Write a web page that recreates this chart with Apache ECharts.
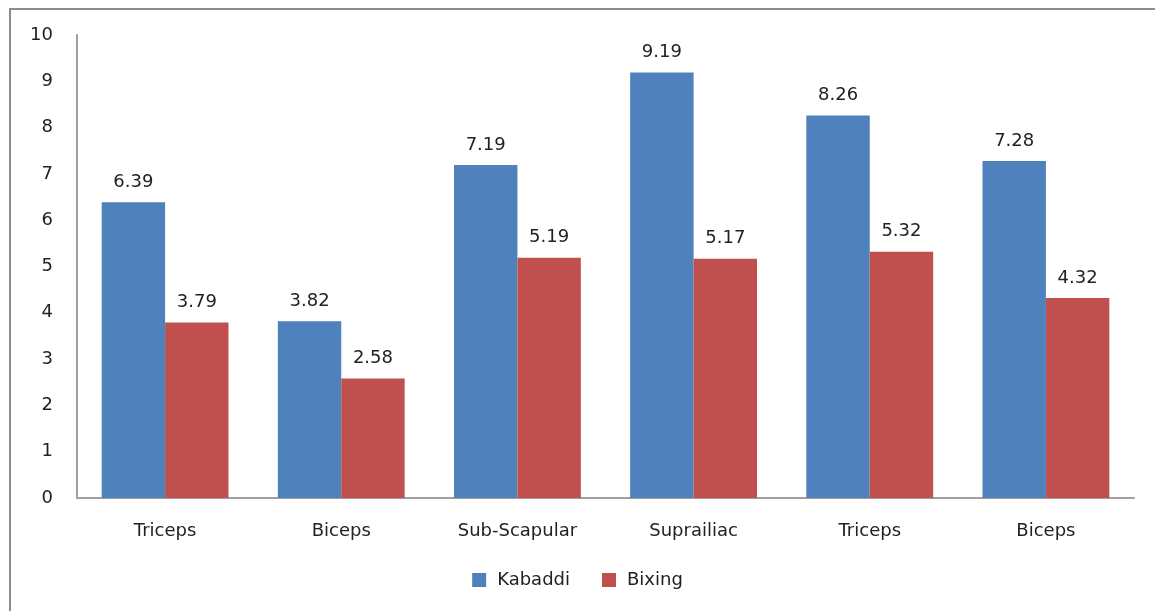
<!DOCTYPE html>
<html>
<head>
<meta charset="utf-8">
<script src="https://cdn.jsdelivr.net/npm/echarts@6/dist/echarts.min.js"></script>
<style>
  html, body { margin: 0; padding: 0; background: #fff; }
  #frame { position: absolute; left: 9px; top: 8px; width: 1200px; height: 700px; border: 2px solid #8c8c8c; box-sizing: border-box; }
  #chart { position: absolute; left: 0; top: 0; width: 1155px; height: 611px; }
</style>
</head>
<body>
<div id="frame"></div>
<div id="chart"></div>
<script>
// categories along the x axis
var categories = ['Triceps', 'Biceps', 'Sub-Scapular', 'Suprailiac', 'Triceps', 'Biceps']
// series values
var kabaddi = [6.39, 3.82, 7.19, 9.19, 8.26, 7.28]
var bixing = [3.79, 2.58, 5.19, 5.17, 5.32, 4.32]

var myChart = echarts.init(document.getElementById('chart'))
var font = 'DejaVu Sans, Verdana, sans-serif'
var fs = 18
myChart.setOption({
  animation: false,
  textStyle: { fontFamily: font },
  legend: {
    bottom: 17,
    left: 'center',
    itemWidth: 14,
    itemHeight: 14,
    itemGap: 32,
    icon: 'rect',
    textStyle: { color: '#222', fontSize: fs, fontFamily: font, padding: [0, 0, 0, 6] },
    data: ['Kabaddi', 'Bixing'],
  },
  grid: {
    left: 77,
    right: 21,
    top: 35,
    bottom: 113,
  },
  xAxis: {
    type: 'category',
    data: categories,
    axisLine: { lineStyle: { color: '#a0a0a0', width: 2 } },
    axisTick: { show: false },
    axisLabel: { color: '#222', fontSize: fs, margin: 24, fontFamily: font, interval: 0 },
  },
  yAxis: {
    type: 'value',
    min: 0,
    max: 10,
    interval: 1,
    splitLine: { show: false },
    axisLine: { show: true, lineStyle: { color: '#a0a0a0', width: 2 } },
    axisTick: { show: false },
    axisLabel: { color: '#222', fontSize: fs, margin: 24, fontFamily: font },
  },
  series: [
    {
      name: 'Kabaddi',
      type: 'bar',
      barGap: '0%',
      barCategoryGap: '28%',
      itemStyle: { color: '#4f81bd' },
      label: { show: true, position: 'top', distance: 11, color: '#222', fontSize: fs, fontFamily: font, formatter: function (p) { return p.value.toFixed(2) } },
      data: kabaddi,
    },
    {
      name: 'Bixing',
      type: 'bar',
      barGap: '0%',
      barCategoryGap: '28%',
      itemStyle: { color: '#c0504d' },
      label: { show: true, position: 'top', distance: 11, color: '#222', fontSize: fs, fontFamily: font, formatter: function (p) { return p.value.toFixed(2) } },
      data: bixing,
    },
  ],
})
</script>
</body>
</html>
